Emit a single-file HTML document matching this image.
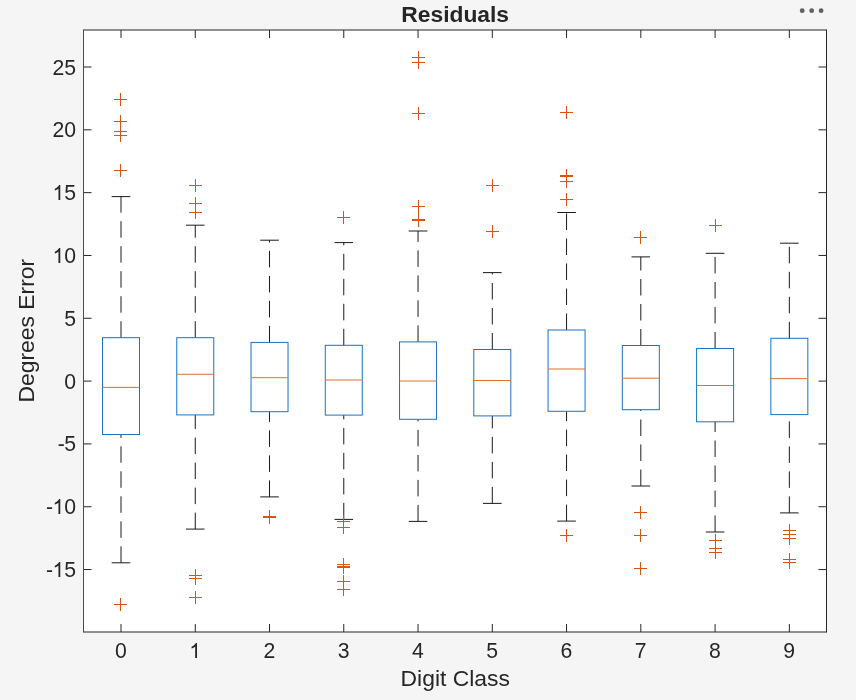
<!DOCTYPE html>
<html><head><meta charset="utf-8"><title>Residuals</title>
<style>html,body{margin:0;padding:0;background:#f5f5f5;}body{width:856px;height:700px;overflow:hidden;position:relative;font-family:"Liberation Sans",sans-serif;}</style>
</head><body>
<svg width="856" height="700" viewBox="0 0 856 700" style="position:absolute;left:0;top:0;will-change:transform">
<rect x="0" y="0" width="856" height="700" fill="#f5f5f5"/>
<rect x="83.5" y="30.0" width="743.0" height="602.0" fill="#fff"/>
<path d="M121.00 632.0V624.0M121.00 30.0V38.0M195.26 632.0V624.0M195.26 30.0V38.0M269.52 632.0V624.0M269.52 30.0V38.0M343.78 632.0V624.0M343.78 30.0V38.0M418.04 632.0V624.0M418.04 30.0V38.0M492.30 632.0V624.0M492.30 30.0V38.0M566.56 632.0V624.0M566.56 30.0V38.0M640.82 632.0V624.0M640.82 30.0V38.0M715.08 632.0V624.0M715.08 30.0V38.0M789.34 632.0V624.0M789.34 30.0V38.0M83.5 569.56H91.5M826.5 569.56H818.5M83.5 506.74H91.5M826.5 506.74H818.5M83.5 443.92H91.5M826.5 443.92H818.5M83.5 381.10H91.5M826.5 381.10H818.5M83.5 318.28H91.5M826.5 318.28H818.5M83.5 255.46H91.5M826.5 255.46H818.5M83.5 192.64H91.5M826.5 192.64H818.5M83.5 129.82H91.5M826.5 129.82H818.5M83.5 67.00H91.5M826.5 67.00H818.5" stroke="#262626" stroke-width="1" fill="none"/>
<path d="M83.5 30.0H826.5M83.5 632.0H826.5M826.5 29.5V632.5" fill="none" stroke="#262626" stroke-width="1"/>
<path d="M83.5 29.5V632.5" fill="none" stroke="#4a4a4a" stroke-width="1"/>
<path d="M121.00 337.7V196.6M121.00 562.8V434.5" stroke="#1a1a1a" stroke-width="1" stroke-dasharray="16.5 8.5" fill="none"/>
<path d="M111.70 196.6H130.30M111.70 562.8H130.30" stroke="#1a1a1a" stroke-width="1" fill="none"/>
<rect x="102.50" y="337.7" width="37.00" height="96.80" fill="none" stroke="#1873c3" stroke-width="1"/>
<path d="M102.50 387.4H139.50" stroke="#e0702e" stroke-width="1" fill="none"/>
<path d="M114.0 99.5h13M120.5 93.0v13M114.0 121.5h13M120.5 115.0v13M114.0 131.5h13M120.5 125.0v13M114.0 135.5h13M120.5 129.0v13M114.0 170.5h13M120.5 164.0v13M114.0 604.5h13M120.5 598.0v13" stroke="#d95410" stroke-width="1" fill="none"/>
<path d="M195.26 337.7V225.2M195.26 529.1V414.9" stroke="#1a1a1a" stroke-width="1" stroke-dasharray="16.5 8.5" fill="none"/>
<path d="M185.96 225.2H204.56M185.96 529.1H204.56" stroke="#1a1a1a" stroke-width="1" fill="none"/>
<rect x="176.76" y="337.7" width="37.00" height="77.20" fill="none" stroke="#1873c3" stroke-width="1"/>
<path d="M176.76 374.3H213.76" stroke="#e0702e" stroke-width="1" fill="none"/>
<path d="M189.0 185.5h13M195.5 179.0v13M189.0 203.5h13M195.5 197.0v13M189.0 212.5h13M195.5 206.0v13M189.0 575.5h13M195.5 569.0v13M189.0 578.5h13M195.5 572.0v13M189.0 597.5h13M195.5 591.0v13" stroke="#d95410" stroke-width="1" fill="none"/>
<path d="M269.52 342.4V240.2M269.52 496.9V411.7" stroke="#1a1a1a" stroke-width="1" stroke-dasharray="16.5 8.5" fill="none"/>
<path d="M260.22 240.2H278.82M260.22 496.9H278.82" stroke="#1a1a1a" stroke-width="1" fill="none"/>
<rect x="251.02" y="342.4" width="37.00" height="69.30" fill="none" stroke="#1873c3" stroke-width="1"/>
<path d="M251.02 377.7H288.02" stroke="#e0702e" stroke-width="1" fill="none"/>
<path d="M263.0 516.5h13M269.5 510.0v13M263.0 517.5h13M269.5 511.0v13" stroke="#d95410" stroke-width="1" fill="none"/>
<path d="M343.78 345.3V242.6M343.78 519.4V415.1" stroke="#1a1a1a" stroke-width="1" stroke-dasharray="16.5 8.5" fill="none"/>
<path d="M334.48 242.6H353.08M334.48 519.4H353.08" stroke="#1a1a1a" stroke-width="1" fill="none"/>
<rect x="325.28" y="345.3" width="37.00" height="69.80" fill="none" stroke="#1873c3" stroke-width="1"/>
<path d="M325.28 380.0H362.28" stroke="#e0702e" stroke-width="1" fill="none"/>
<path d="M337.0 217.5h13M343.5 211.0v13M337.0 521.5h13M343.5 515.0v13M337.0 527.5h13M343.5 521.0v13M337.0 564.5h13M343.5 558.0v13M337.0 566.5h13M343.5 560.0v13M337.0 567.5h13M343.5 561.0v13M337.0 581.5h13M343.5 575.0v13M337.0 589.5h13M343.5 583.0v13" stroke="#d95410" stroke-width="1" fill="none"/>
<path d="M418.04 341.9V231.0M418.04 521.4V419.3" stroke="#1a1a1a" stroke-width="1" stroke-dasharray="16.5 8.5" fill="none"/>
<path d="M408.74 231.0H427.34M408.74 521.4H427.34" stroke="#1a1a1a" stroke-width="1" fill="none"/>
<rect x="399.54" y="341.9" width="37.00" height="77.40" fill="none" stroke="#1873c3" stroke-width="1"/>
<path d="M399.54 381.0H436.54" stroke="#e0702e" stroke-width="1" fill="none"/>
<path d="M412.0 57.5h13M418.5 51.0v13M412.0 62.5h13M418.5 56.0v13M412.0 113.5h13M418.5 107.0v13M412.0 206.5h13M418.5 200.0v13M412.0 219.5h13M418.5 213.0v13M412.0 220.5h13M418.5 214.0v13" stroke="#d95410" stroke-width="1" fill="none"/>
<path d="M492.30 349.5V272.6M492.30 503.4V415.9" stroke="#1a1a1a" stroke-width="1" stroke-dasharray="16.5 8.5" fill="none"/>
<path d="M483.00 272.6H501.60M483.00 503.4H501.60" stroke="#1a1a1a" stroke-width="1" fill="none"/>
<rect x="473.80" y="349.5" width="37.00" height="66.40" fill="none" stroke="#1873c3" stroke-width="1"/>
<path d="M473.80 380.5H510.80" stroke="#e0702e" stroke-width="1" fill="none"/>
<path d="M486.0 185.5h13M492.5 179.0v13M486.0 231.5h13M492.5 225.0v13" stroke="#d95410" stroke-width="1" fill="none"/>
<path d="M566.56 330.0V212.5M566.56 521.1V411.3" stroke="#1a1a1a" stroke-width="1" stroke-dasharray="16.5 8.5" fill="none"/>
<path d="M557.26 212.5H575.86M557.26 521.1H575.86" stroke="#1a1a1a" stroke-width="1" fill="none"/>
<rect x="548.06" y="330.0" width="37.00" height="81.30" fill="none" stroke="#1873c3" stroke-width="1"/>
<path d="M548.06 369.0H585.06" stroke="#e0702e" stroke-width="1" fill="none"/>
<path d="M560.0 112.5h13M566.5 106.0v13M560.0 175.5h13M566.5 169.0v13M560.0 176.5h13M566.5 170.0v13M560.0 181.5h13M566.5 175.0v13M560.0 199.5h13M566.5 193.0v13M560.0 535.5h13M566.5 529.0v13" stroke="#d95410" stroke-width="1" fill="none"/>
<path d="M640.82 345.5V256.9M640.82 486.0V409.7" stroke="#1a1a1a" stroke-width="1" stroke-dasharray="16.5 8.5" fill="none"/>
<path d="M631.52 256.9H650.12M631.52 486.0H650.12" stroke="#1a1a1a" stroke-width="1" fill="none"/>
<rect x="622.32" y="345.5" width="37.00" height="64.20" fill="none" stroke="#1873c3" stroke-width="1"/>
<path d="M622.32 378.2H659.32" stroke="#e0702e" stroke-width="1" fill="none"/>
<path d="M634.0 237.5h13M640.5 231.0v13M634.0 512.5h13M640.5 506.0v13M634.0 535.5h13M640.5 529.0v13M634.0 568.5h13M640.5 562.0v13" stroke="#d95410" stroke-width="1" fill="none"/>
<path d="M715.08 348.5V253.3M715.08 532.0V421.8" stroke="#1a1a1a" stroke-width="1" stroke-dasharray="16.5 8.5" fill="none"/>
<path d="M705.78 253.3H724.38M705.78 532.0H724.38" stroke="#1a1a1a" stroke-width="1" fill="none"/>
<rect x="696.58" y="348.5" width="37.00" height="73.30" fill="none" stroke="#1873c3" stroke-width="1"/>
<path d="M696.58 385.5H733.58" stroke="#e0702e" stroke-width="1" fill="none"/>
<path d="M709.0 225.5h13M715.5 219.0v13M709.0 540.5h13M715.5 534.0v13M709.0 548.5h13M715.5 542.0v13M709.0 552.5h13M715.5 546.0v13" stroke="#d95410" stroke-width="1" fill="none"/>
<path d="M789.34 338.3V243.2M789.34 512.9V414.6" stroke="#1a1a1a" stroke-width="1" stroke-dasharray="16.5 8.5" fill="none"/>
<path d="M780.04 243.2H798.64M780.04 512.9H798.64" stroke="#1a1a1a" stroke-width="1" fill="none"/>
<rect x="770.84" y="338.3" width="37.00" height="76.30" fill="none" stroke="#1873c3" stroke-width="1"/>
<path d="M770.84 378.6H807.84" stroke="#e0702e" stroke-width="1" fill="none"/>
<path d="M783.0 530.5h13M789.5 524.0v13M783.0 534.5h13M789.5 528.0v13M783.0 538.5h13M789.5 532.0v13M783.0 559.5h13M789.5 553.0v13M783.0 562.5h13M789.5 556.0v13" stroke="#d95410" stroke-width="1" fill="none"/>
<circle cx="802.2" cy="10.7" r="2.4" fill="#616161"/>
<circle cx="811.7" cy="10.7" r="2.4" fill="#616161"/>
<circle cx="821.1" cy="10.7" r="2.4" fill="#616161"/>
<g font-family="'Liberation Sans', sans-serif" fill="#262626"><text x="126.70" y="657.50" font-size="21.2" text-anchor="end">0</text>
<path transform="translate(189.30,658.00) scale(0.010107,-0.010107)" d="M763,0H583V1147Q518,1085 412.5,1023Q307,961 223,930V1104Q374,1175 487,1276Q600,1377 647,1472H763Z" stroke="none"/>
<text x="275.22" y="657.50" font-size="21.2" text-anchor="end">2</text>
<text x="349.48" y="657.50" font-size="21.2" text-anchor="end">3</text>
<text x="423.74" y="657.50" font-size="21.2" text-anchor="end">4</text>
<text x="498.00" y="657.50" font-size="21.2" text-anchor="end">5</text>
<text x="572.26" y="657.50" font-size="21.2" text-anchor="end">6</text>
<text x="646.52" y="657.50" font-size="21.2" text-anchor="end">7</text>
<text x="720.78" y="657.50" font-size="21.2" text-anchor="end">8</text>
<text x="795.04" y="657.50" font-size="21.2" text-anchor="end">9</text>
<text x="76.00" y="577.06" font-size="21.2" text-anchor="end">5</text>
<path transform="translate(52.56,577.00) scale(0.010107,-0.010107)" d="M763,0H583V1147Q518,1085 412.5,1023Q307,961 223,930V1104Q374,1175 487,1276Q600,1377 647,1472H763Z" stroke="none"/>
<text x="53.02" y="577.06" font-size="21.2" text-anchor="end">-</text>
<text x="76.00" y="514.24" font-size="21.2" text-anchor="end">0</text>
<path transform="translate(52.56,514.00) scale(0.010107,-0.010107)" d="M763,0H583V1147Q518,1085 412.5,1023Q307,961 223,930V1104Q374,1175 487,1276Q600,1377 647,1472H763Z" stroke="none"/>
<text x="53.02" y="514.24" font-size="21.2" text-anchor="end">-</text>
<text x="76.00" y="451.42" font-size="21.2" text-anchor="end">5</text>
<text x="64.81" y="451.42" font-size="21.2" text-anchor="end">-</text>
<text x="76.00" y="388.60" font-size="21.2" text-anchor="end">0</text>
<text x="76.00" y="325.78" font-size="21.2" text-anchor="end">5</text>
<text x="76.00" y="262.96" font-size="21.2" text-anchor="end">0</text>
<path transform="translate(52.56,263.00) scale(0.010107,-0.010107)" d="M763,0H583V1147Q518,1085 412.5,1023Q307,961 223,930V1104Q374,1175 487,1276Q600,1377 647,1472H763Z" stroke="none"/>
<text x="76.00" y="200.14" font-size="21.2" text-anchor="end">5</text>
<path transform="translate(52.56,200.00) scale(0.010107,-0.010107)" d="M763,0H583V1147Q518,1085 412.5,1023Q307,961 223,930V1104Q374,1175 487,1276Q600,1377 647,1472H763Z" stroke="none"/>
<text x="76.00" y="137.32" font-size="21.2" text-anchor="end">0</text>
<text x="64.21" y="137.32" font-size="21.2" text-anchor="end">2</text>
<text x="76.00" y="74.50" font-size="21.2" text-anchor="end">5</text>
<text x="64.21" y="74.50" font-size="21.2" text-anchor="end">2</text>
<text x="455.2" y="21.7" font-size="22.8" text-anchor="middle" font-weight="bold">Residuals</text>
<text x="455.3" y="685.5" font-size="22.9" text-anchor="middle" font-weight="normal">Digit Class</text>
<text transform="translate(33.6,330.7) rotate(-90)" font-size="22.9" text-anchor="middle">Degrees Error</text></g>
</svg>
</body></html>
